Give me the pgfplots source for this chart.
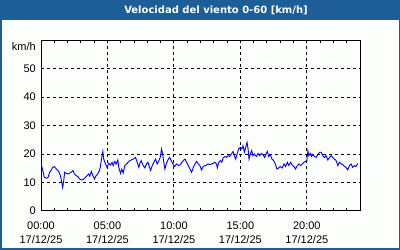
\documentclass[border=0pt]{standalone}
\usepackage{pgfplots}
\pgfplotsset{compat=1.18}
\usepackage{fontspec}
\setmainfont{Liberation Sans}
\newfontfamily\titlefont{DejaVu Sans}
\definecolor{titleblue}{HTML}{1D5E98}
\definecolor{bgwhite}{HTML}{FCFEFC}
\begin{document}
\begin{tikzpicture}
\useasboundingbox (0,0) rectangle (400bp,250bp);
\fill[titleblue] (0,0) rectangle (400bp,250bp);
\fill[bgwhite] (2bp,2bp) rectangle (399bp,230bp);
\node[text=white, font=\titlefont\bfseries\fontsize{10bp}{12bp}\selectfont] at (216bp,240bp) {Velocidad del viento 0-60 [km/h]};
\node[anchor=east, inner sep=0pt, font=\fontsize{11bp}{13bp}\selectfont] at (36bp,203bp) {km/h};
\begin{axis}[
  scale only axis,
  width=319bp, height=171bp,
  at={(41bp,39bp)}, anchor=south west,
  xmin=0, xmax=24, ymin=0, ymax=60,
  xtick={0,5,10,15,20},
  xticklabels={{00:00\\17/12/25},{05:00\\17/12/25},{10:00\\17/12/25},{15:00\\17/12/25},{20:00\\17/12/25}},
  minor xtick={1,2,3,4,6,7,8,9,11,12,13,14,16,17,18,19,21,22,23},
  ytick={0,10,20,30,40,50},
  tick align=inside,
  major tick length=0pt,
  minor tick length=2.5bp,
  every tick/.style={black, line width=1bp},
  axis line style={black, line width=1bp},
  grid=major,
  major grid style={black, line width=1bp, dash pattern=on 3bp off 3bp},
  /pgf/number format/assume math mode=true,
  tick label style={font=\fontsize{11bp}{14bp}\selectfont},
  xticklabel style={align=center, inner sep=0pt, yshift=-11bp},
  yticklabel style={inner sep=0pt, xshift=-5bp},
  axis background/.style={fill=bgwhite},
]
\addplot[blue, line width=0.9bp] coordinates {
(0,16.7)(0.13,14.4)(0.25,11.8)(0.4,11.5)(0.53,11.8)(0.65,13.6)(0.75,14.2)(0.88,15.3)
(1.0,15.6)(1.16,14.7)(1.33,13.9)(1.46,12.4)(1.53,10.9)(1.63,8.3)(1.71,10.6)(1.78,13.6)
(1.91,13.2)(2.03,13.0)(2.16,13.3)(2.29,13.7)(2.41,14.2)(2.51,13.0)(2.66,12.4)(2.79,12.0)
(2.91,11.2)(3.09,10.9)(3.22,11.2)(3.34,11.8)(3.47,12.4)(3.59,13.0)(3.67,12.2)(3.79,13.9)
(3.89,12.6)(4.02,11.2)(4.15,12.4)(4.27,13.0)(4.40,14.2)(4.47,15.6)(4.55,18.2)(4.65,20.9)
(4.72,18.2)(4.85,16.5)(4.97,15.3)(5.10,16.8)(5.23,16.1)(5.35,17.1)(5.43,15.9)(5.55,17.4)
(5.65,16.5)(5.78,17.9)(5.85,15.3)(5.98,13.2)(6.08,14.7)(6.18,13.3)(6.31,15.9)(6.43,16.5)
(6.61,17.4)(6.78,17.9)(6.93,18.2)(7.11,18.8)(7.24,17.1)(7.36,15.3)(7.44,16.7)(7.54,17.7)
(7.69,15.9)(7.81,15.1)(7.94,16.5)(8.04,17.1)(8.17,15.3)(8.24,14.2)(8.37,15.9)(8.49,17.1)
(8.62,18.2)(8.74,16.5)(8.87,17.7)(8.97,18.8)(9.07,21.8)(9.15,20.0)(9.22,17.7)(9.32,14.7)
(9.42,16.5)(9.55,17.9)(9.67,18.8)(9.80,17.7)(9.92,16.5)(10.05,15.6)(10.20,16.5)(10.38,15.9)
(10.55,16.7)(10.70,17.7)(10.83,18.2)(10.95,17.1)(11.08,15.9)(11.21,14.7)(11.33,13.6)(11.46,15.3)
(11.58,16.5)(11.71,17.4)(11.83,16.5)(11.96,15.9)(12.07,14.4)(12.2,15.6)(12.32,15.9)(12.45,16.1)
(12.57,16.5)(12.7,16.3)(12.82,16.5)(12.95,16.7)(13.07,17.1)(13.2,16.5)(13.27,15.1)(13.37,17.1)
(13.5,17.7)(13.6,17.1)(13.7,18.6)(13.82,19.1)(13.95,18.8)(14.07,19.4)(14.2,19.1)(14.32,20.0)
(14.45,20.9)(14.55,19.4)(14.65,18.2)(14.75,20.0)(14.87,21.8)(15.0,22.3)(15.12,21.8)(15.2,22.9)
(15.3,20.6)(15.4,22.3)(15.5,24.1)(15.58,21.8)(15.65,18.2)(15.75,20.0)(15.85,21.2)(15.95,19.4)
(16.05,20.0)(16.2,19.1)(16.33,20.2)(16.45,19.4)(16.58,20.2)(16.7,19.8)(16.83,18.8)(16.95,20.2)
(17.03,20.9)(17.13,19.1)(17.25,19.8)(17.38,18.2)(17.5,17.7)(17.63,16.5)(17.75,14.7)(17.88,15.1)
(18.0,15.6)(18.15,15.1)(18.28,16.5)(18.4,15.6)(18.53,17.1)(18.65,15.9)(18.78,17.1)(18.9,16.1)
(19.03,15.6)(19.15,14.7)(19.28,15.9)(19.4,16.5)(19.53,15.9)(19.65,16.5)(19.78,17.1)(19.9,17.4)
(20.0,17.7)(20.08,21.2)(20.15,19.4)(20.25,20.2)(20.35,19.1)(20.45,19.8)(20.58,19.1)(20.7,18.8)
(20.83,19.8)(20.95,20.6)(21.08,20.6)(21.2,19.4)(21.33,18.8)(21.45,19.4)(21.58,17.9)(21.7,18.8)
(21.83,19.4)(21.95,18.8)(22.08,18.2)(22.2,17.7)(22.33,15.9)(22.45,17.1)(22.58,16.5)(22.7,16.3)
(22.83,15.6)(22.95,15.3)(23.08,14.4)(23.2,15.9)(23.33,16.5)(23.45,15.3)(23.58,15.9)(23.7,15.6)
(23.83,16.7)
};
\end{axis}
\end{tikzpicture}
\end{document}
